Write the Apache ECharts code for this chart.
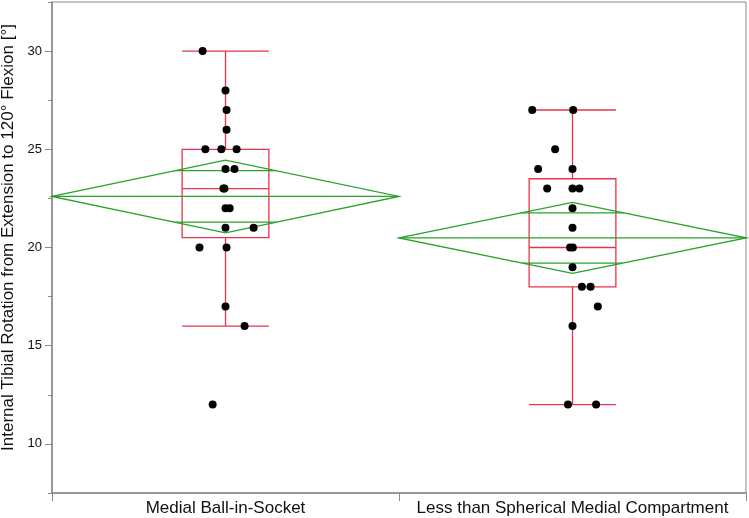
<!DOCTYPE html>
<html><head><meta charset="utf-8">
<script src="https://cdn.jsdelivr.net/npm/echarts@6/dist/echarts.min.js"></script>
<style>html,body{margin:0;padding:0;background:#fff}#c{width:749px;height:518px}</style>
</head><body><div id="c"></div>
<script>
const categories = ['Medial Ball-in-Socket', 'Less than Spherical Medial Compartment'];
const yMajorTicks = [10, 15, 20, 25, 30];
const yMinorTicks = [7.5, 12.5, 17.5, 22.5, 27.5, 32.5];
const yTitle = 'Internal Tibial Rotation from Extension to 120\u00B0 Flexion [\u00B0]';

// raw observations (value, horizontal jitter in band units)
const group1Values = [30, 28, 27, 26, 25, 25, 25, 24, 24, 23, 23, 22, 22, 21, 21, 20, 20, 17, 16, 12];
const group1Jitter = [-0.066, 0, 0.003, 0.003, -0.058, -0.012, 0.032, 0, 0.026, -0.006, -0.003, 0, 0.012, 0, 0.081, -0.075, 0.003, 0, 0.055, -0.037];
const group2Values = [27, 27, 25, 24, 24, 23, 23, 23, 22, 21, 20, 20, 19, 18, 18, 17, 16, 12, 12];
const group2Jitter = [-0.116, 0.002, -0.05, -0.099, 0, -0.073, 0, 0.02, 0, 0, -0.007, 0.001, 0, 0.027, 0.052, 0.073, 0, -0.013, 0.068];

// box plot summaries
const boxMin = [16, 12];
const boxQ1 = [20.5, 18];
const boxMedian = [23, 20];
const boxQ3 = [25, 23.5];
const boxMax = [30, 27];

// means diamonds
const meanValue = [22.6, 20.49];
const ciLower = [20.75, 18.68];
const ciUpper = [24.45, 22.3];
const overlapLower = [21.29, 19.2];
const overlapUpper = [23.91, 21.76];

const RED = '#e8344a';
const GREEN = '#27a22a';
const AXIS = '#8a8a8a';
const BOX_W = 0.25;
const FONT = 'Liberation Sans, Arial, sans-serif';

const chart = echarts.init(document.getElementById('c'), null, {renderer: 'canvas'});

const boxData = categories.map((c, i) => [i, boxMin[i], boxQ1[i], boxMedian[i], boxQ3[i], boxMax[i]]);
const diamondData = categories.map((c, i) => [i, meanValue[i], ciLower[i], ciUpper[i], overlapLower[i], overlapUpper[i]]);
const pts1 = group1Values.map((v, k) => [0 + group1Jitter[k], v]);
const pts2 = group2Values.map((v, k) => [1 + group2Jitter[k], v]);

function lineShape(p1, p2, color) {
  return {type: 'line', shape: {x1: p1[0], y1: p1[1], x2: p2[0], y2: p2[1]}, style: {stroke: color, lineWidth: 1.3}};
}

option = {
  animation: false,
  grid: {left: 52, right: 3, top: 2, bottom: 25, show: true, borderColor: AXIS, borderWidth: 1,
         containLabel: false, outerBoundsMode: 'none'},
  xAxis: [
    {type: 'category', data: categories, boundaryGap: true,
     axisLine: {onZero: false, lineStyle: {color: AXIS, width: 1.5}},
     axisTick: {show: true, length: 8, interval: 0, lineStyle: {color: AXIS}},
     axisLabel: {interval: 0, hideOverlap: false, color: '#111', fontSize: 17, margin: 7, fontFamily: FONT},
     splitLine: {show: false}},
    {type: 'value', min: -0.5, max: 1.5, show: false, axisLine: {onZero: false}}
  ],
  yAxis: [
    {type: 'value', min: 7.5, max: 32.5,
     name: yTitle, nameLocation: 'middle', nameGap: 33,
     nameTextStyle: {fontSize: 17, color: '#111', fontFamily: FONT, padding: [0, 0, 0, 20]},
     axisLine: {show: true, onZero: false, lineStyle: {color: AXIS, width: 1.5}},
     axisTick: {show: true, length: 7, customValues: yMajorTicks, lineStyle: {color: AXIS}},
     axisLabel: {customValues: yMajorTicks, color: '#111', fontSize: 13, margin: 10, fontFamily: FONT},
     splitLine: {show: false}},
    {type: 'value', min: 7.5, max: 32.5, position: 'left',
     axisLine: {show: false, onZero: false},
     axisTick: {show: true, length: 4, customValues: yMinorTicks, lineStyle: {color: AXIS}},
     axisLabel: {show: false}, splitLine: {show: false}}
  ],
  series: [
    {type: 'custom', xAxisIndex: 1, yAxisIndex: 0, data: boxData, z: 2,
     renderItem: function (params, api) {
       const i = api.value(0);
       const mn = api.value(1), q1 = api.value(2), md = api.value(3), q3 = api.value(4), mx = api.value(5);
       const L = i - BOX_W / 2, R = i + BOX_W / 2;
       const tl = api.coord([L, q3]), br = api.coord([R, q1]);
       const children = [
         {type: 'rect', shape: {x: tl[0], y: tl[1], width: br[0] - tl[0], height: br[1] - tl[1]}, style: {fill: 'none', stroke: RED, lineWidth: 1.3}},
         lineShape(api.coord([L, md]), api.coord([R, md]), RED),
         lineShape(api.coord([i, q3]), api.coord([i, mx]), RED),
         lineShape(api.coord([i, q1]), api.coord([i, mn]), RED),
         lineShape(api.coord([L, mx]), api.coord([R, mx]), RED),
         lineShape(api.coord([L, mn]), api.coord([R, mn]), RED)
       ];
       return {type: 'group', children: children};
     }},
    {type: 'custom', xAxisIndex: 1, yAxisIndex: 0, data: diamondData, z: 3,
     renderItem: function (params, api) {
       const i = api.value(0);
       const m = api.value(1), lo = api.value(2), hi = api.value(3), olo = api.value(4), ohi = api.value(5);
       const left = api.coord([i - 0.5, m]), right = api.coord([i + 0.5, m]);
       const top = api.coord([i, hi]), bot = api.coord([i, lo]);
       const fu = 0.5 * (1 - (ohi - m) / (hi - m));
       const fl = 0.5 * (1 - (m - olo) / (m - lo));
       return {type: 'group', children: [
         {type: 'polygon', shape: {points: [left, top, right, bot]}, style: {fill: 'none', stroke: GREEN, lineWidth: 1.3}},
         lineShape(left, right, GREEN),
         lineShape(api.coord([i - fu, ohi]), api.coord([i + fu, ohi]), GREEN),
         lineShape(api.coord([i - fl, olo]), api.coord([i + fl, olo]), GREEN)
       ]};
     }},
    {type: 'scatter', xAxisIndex: 1, yAxisIndex: 0, data: pts1, symbolSize: 8, itemStyle: {color: '#000', opacity: 1}, z: 5},
    {type: 'scatter', xAxisIndex: 1, yAxisIndex: 0, data: pts2, symbolSize: 8, itemStyle: {color: '#000', opacity: 1}, z: 5}
  ]
};
chart.setOption(option);
</script>
</body></html>
